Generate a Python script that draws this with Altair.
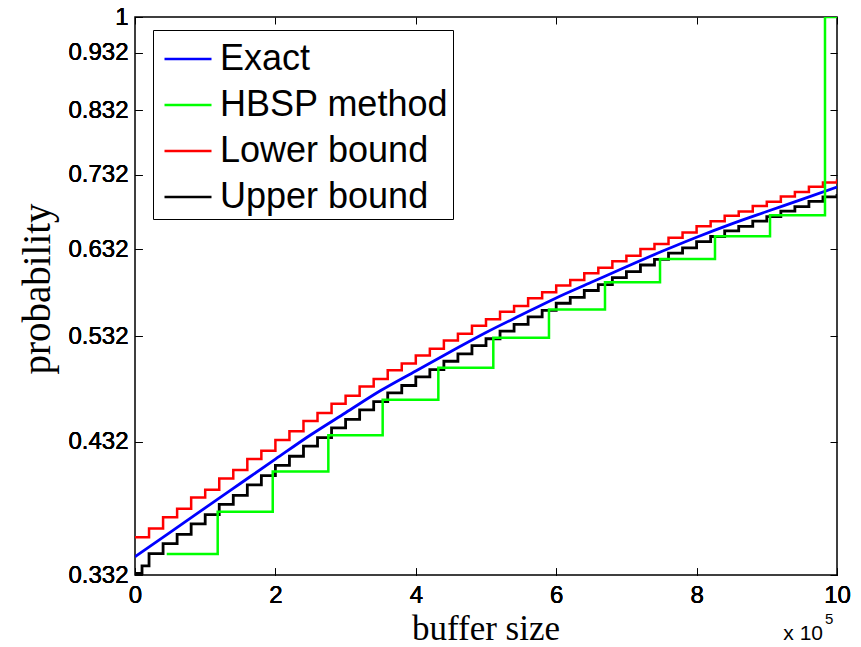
import altair as alt
import pandas as pd

# ---------------- data ----------------
series = ["Exact", "HBSP method", "Lower bound", "Upper bound"]
colors = ["#0000ff", "#00ff00", "#ff0000", "#000000"]

exact_x = [0, 0.5, 1, 1.5, 2, 2.5, 3, 3.5, 4, 4.5, 5, 5.5, 6, 6.5, 7, 7.5, 8, 8.5, 9, 9.5, 10]
exact_y = [0.3442, 0.3612, 0.3791, 0.3978, 0.4174, 0.4378, 0.4575, 0.4780, 0.4969, 0.5163,
           0.5361, 0.5549, 0.5740, 0.5920, 0.6105, 0.6291, 0.6472, 0.6645, 0.6809, 0.6975, 0.7147]

hbsp_x = [0.452, 1.178, 1.962, 2.754, 3.528, 4.321, 5.104, 5.897, 6.695, 7.479, 8.262, 9.046, 9.829, 10]
hbsp_y = [0.346, 0.3762, 0.4073, 0.4376, 0.4695, 0.5001, 0.5306, 0.5610, 0.5921, 0.6200,
          0.6484, 0.6758, 1.0, 1.0]

lower_x = [0, 0.2, 0.4, 0.6, 0.8, 1.0, 1.2, 1.4, 1.6, 1.8, 2.0, 2.2, 2.4, 2.6, 2.8, 3.0, 3.2,
           3.4, 3.6, 3.8, 4.0, 4.2, 4.4, 4.6, 4.8, 5.0, 5.2, 5.4, 5.6, 5.8, 6.0, 6.2, 6.4, 6.6,
           6.8, 7.0, 7.2, 7.4, 7.6, 7.8, 8.0, 8.2, 8.4, 8.6, 8.8, 9.0, 9.2, 9.4, 9.6, 9.8, 10.0]
lower_y = [0.3578, 0.3640, 0.3722, 0.3785, 0.3870, 0.3930, 0.4018, 0.4085, 0.4175, 0.4243,
           0.4335, 0.4410, 0.4500, 0.4572, 0.4658, 0.4730, 0.4818, 0.4890, 0.4975, 0.5042,
           0.5122, 0.5192, 0.5278, 0.5348, 0.5433, 0.5502, 0.5585, 0.5650, 0.5736, 0.5804,
           0.5884, 0.5948, 0.6026, 0.6092, 0.6172, 0.6240, 0.6322, 0.6386, 0.6466, 0.6532,
           0.6613, 0.6680, 0.6751, 0.6808, 0.6882, 0.6940, 0.7015, 0.7076, 0.7150, 0.7212, 0.7252]

upper_x = [0, 0.1, 0.2, 0.4, 0.6, 0.8, 1.0, 1.2, 1.4, 1.6, 1.8, 2.0, 2.2, 2.4, 2.6, 2.8, 3.0,
           3.2, 3.4, 3.6, 3.8, 4.0, 4.2, 4.4, 4.6, 4.8, 5.0, 5.2, 5.4, 5.6, 5.8, 6.0, 6.2, 6.4,
           6.6, 6.8, 7.0, 7.2, 7.4, 7.6, 7.8, 8.0, 8.2, 8.4, 8.6, 8.8, 9.0, 9.2, 9.4, 9.6, 9.8, 10.0]
upper_y = [0.3330, 0.3380, 0.3463, 0.3532, 0.3598, 0.3673, 0.3740, 0.3817, 0.3886, 0.3967,
           0.4040, 0.4123, 0.4198, 0.4283, 0.4356, 0.4440, 0.4515, 0.4601, 0.4677, 0.4758,
           0.4828, 0.4910, 0.4981, 0.5065, 0.5140, 0.5224, 0.5295, 0.5375, 0.5447, 0.5529,
           0.5601, 0.5680, 0.5747, 0.5825, 0.5894, 0.5974, 0.6046, 0.6126, 0.6194, 0.6271,
           0.6337, 0.6416, 0.6481, 0.6552, 0.6611, 0.6681, 0.6741, 0.6813, 0.6875, 0.6947,
           0.7010, 0.7048]

x_ticks = [0, 2, 4, 6, 8, 10]
y_ticks = [0.332, 0.432, 0.532, 0.632, 0.732, 0.832, 0.932, 1]

x_title = "buffer size"
y_title = "probability"
x_exponent_base = "x 10"
x_exponent = "5"

# ---------------- tables ----------------
def frame(xs, ys, name):
    return pd.DataFrame({"x": xs, "y": ys, "series": name})

df_exact = frame(exact_x, exact_y, series[0])
df_hbsp = frame(hbsp_x, hbsp_y, series[1])
df_lower = frame(lower_x, lower_y, series[2])
df_upper = frame(upper_x, upper_y, series[3])

W, H = 702, 558
SANS = "Liberation Sans"
SERIF = "Liberation Serif"

xscale = alt.Scale(domain=[0, 10], nice=False, zero=False)
yscale = alt.Scale(type="log", domain=[0.332, 1], nice=False)

common_axis = dict(title=None, grid=False, domain=False, offset=-7, tickSize=7,
                   tickColor="black", tickWidth=1, labelFont=SANS, labelFontSize=24,
                   labelFontWeight="normal", labelColor="black", labelFlush=False,
                   labelOverlap=False)

x_bottom = alt.Axis(orient="bottom", values=x_ticks, format="d", labelPadding=8, **common_axis)
y_left = alt.Axis(orient="left", values=y_ticks, format=".3~f", labelPadding=7, **common_axis)
x_top = alt.Axis(orient="top", values=x_ticks, labels=False, **common_axis)
y_right = alt.Axis(orient="right", values=y_ticks, labels=False, **common_axis)

color = alt.Color(
    "series:N",
    scale=alt.Scale(domain=series, range=colors),
    legend=alt.Legend(
        orient="none", legendX=18, legendY=13, title=None,
        symbolType="stroke", symbolSize=2209, symbolStrokeWidth=2.5, symbolOffset=6,
        labelFont=SANS, labelFontSize=36, labelColor="black", labelOffset=7,
        strokeColor="black", fillColor="white", padding=4, rowPadding=3,
        cornerRadius=0, labelLimit=400,
    ),
)


def line(df, interp, width=2.5):
    return alt.Chart(df).mark_line(
        interpolate=interp, strokeWidth=width, strokeJoin="miter", strokeCap="butt", clip=True
    ).encode(
        x=alt.X("x:Q", scale=xscale, axis=x_bottom),
        y=alt.Y("y:Q", scale=yscale, axis=y_left),
        color=color,
        order=alt.Order("x:Q"),
    )


l_exact = line(df_exact, "monotone", 2.8)
l_hbsp = line(df_hbsp, "step-after")
l_lower = line(df_lower, "step-after")
l_upper = line(df_upper, "step-after", 2.8)

frame_axes = alt.Chart(df_exact).mark_point(opacity=0).encode(
    x=alt.X("x:Q", scale=xscale, axis=x_top),
    y=alt.Y("y:Q", scale=yscale, axis=y_right),
)


def text(t, x, y, font, size, angle=0, align="center", baseline="alphabetic"):
    return alt.Chart(pd.DataFrame({"t": [t]})).mark_text(
        font=font, fontSize=size, color="black", align=align, baseline=baseline, angle=angle
    ).encode(text="t:N", x=alt.value(x), y=alt.value(y))


t_x = text(x_title, 351, 623, SERIF, 35)
t_y = text(y_title, -97, 272, SERIF, 39, angle=270, baseline="middle")
t_e1 = text(x_exponent_base, 688, 623, SANS, 21, align="right")
t_e2 = text(x_exponent, 690, 607, SANS, 15, align="left")

chart = alt.layer(
    l_exact, l_lower, l_upper, l_hbsp, frame_axes, t_x, t_y, t_e1, t_e2
).resolve_axis(x="independent", y="independent").properties(
    width=W, height=H,
    padding={"left": 127, "top": 9, "right": 16, "bottom": 72},
    autosize=alt.AutoSizeParams(type="none"),
    background="white",
).configure_view(stroke="black", strokeWidth=1.5)

chart.save("out.html", embed_options={"renderer": "svg", "actions": False})
